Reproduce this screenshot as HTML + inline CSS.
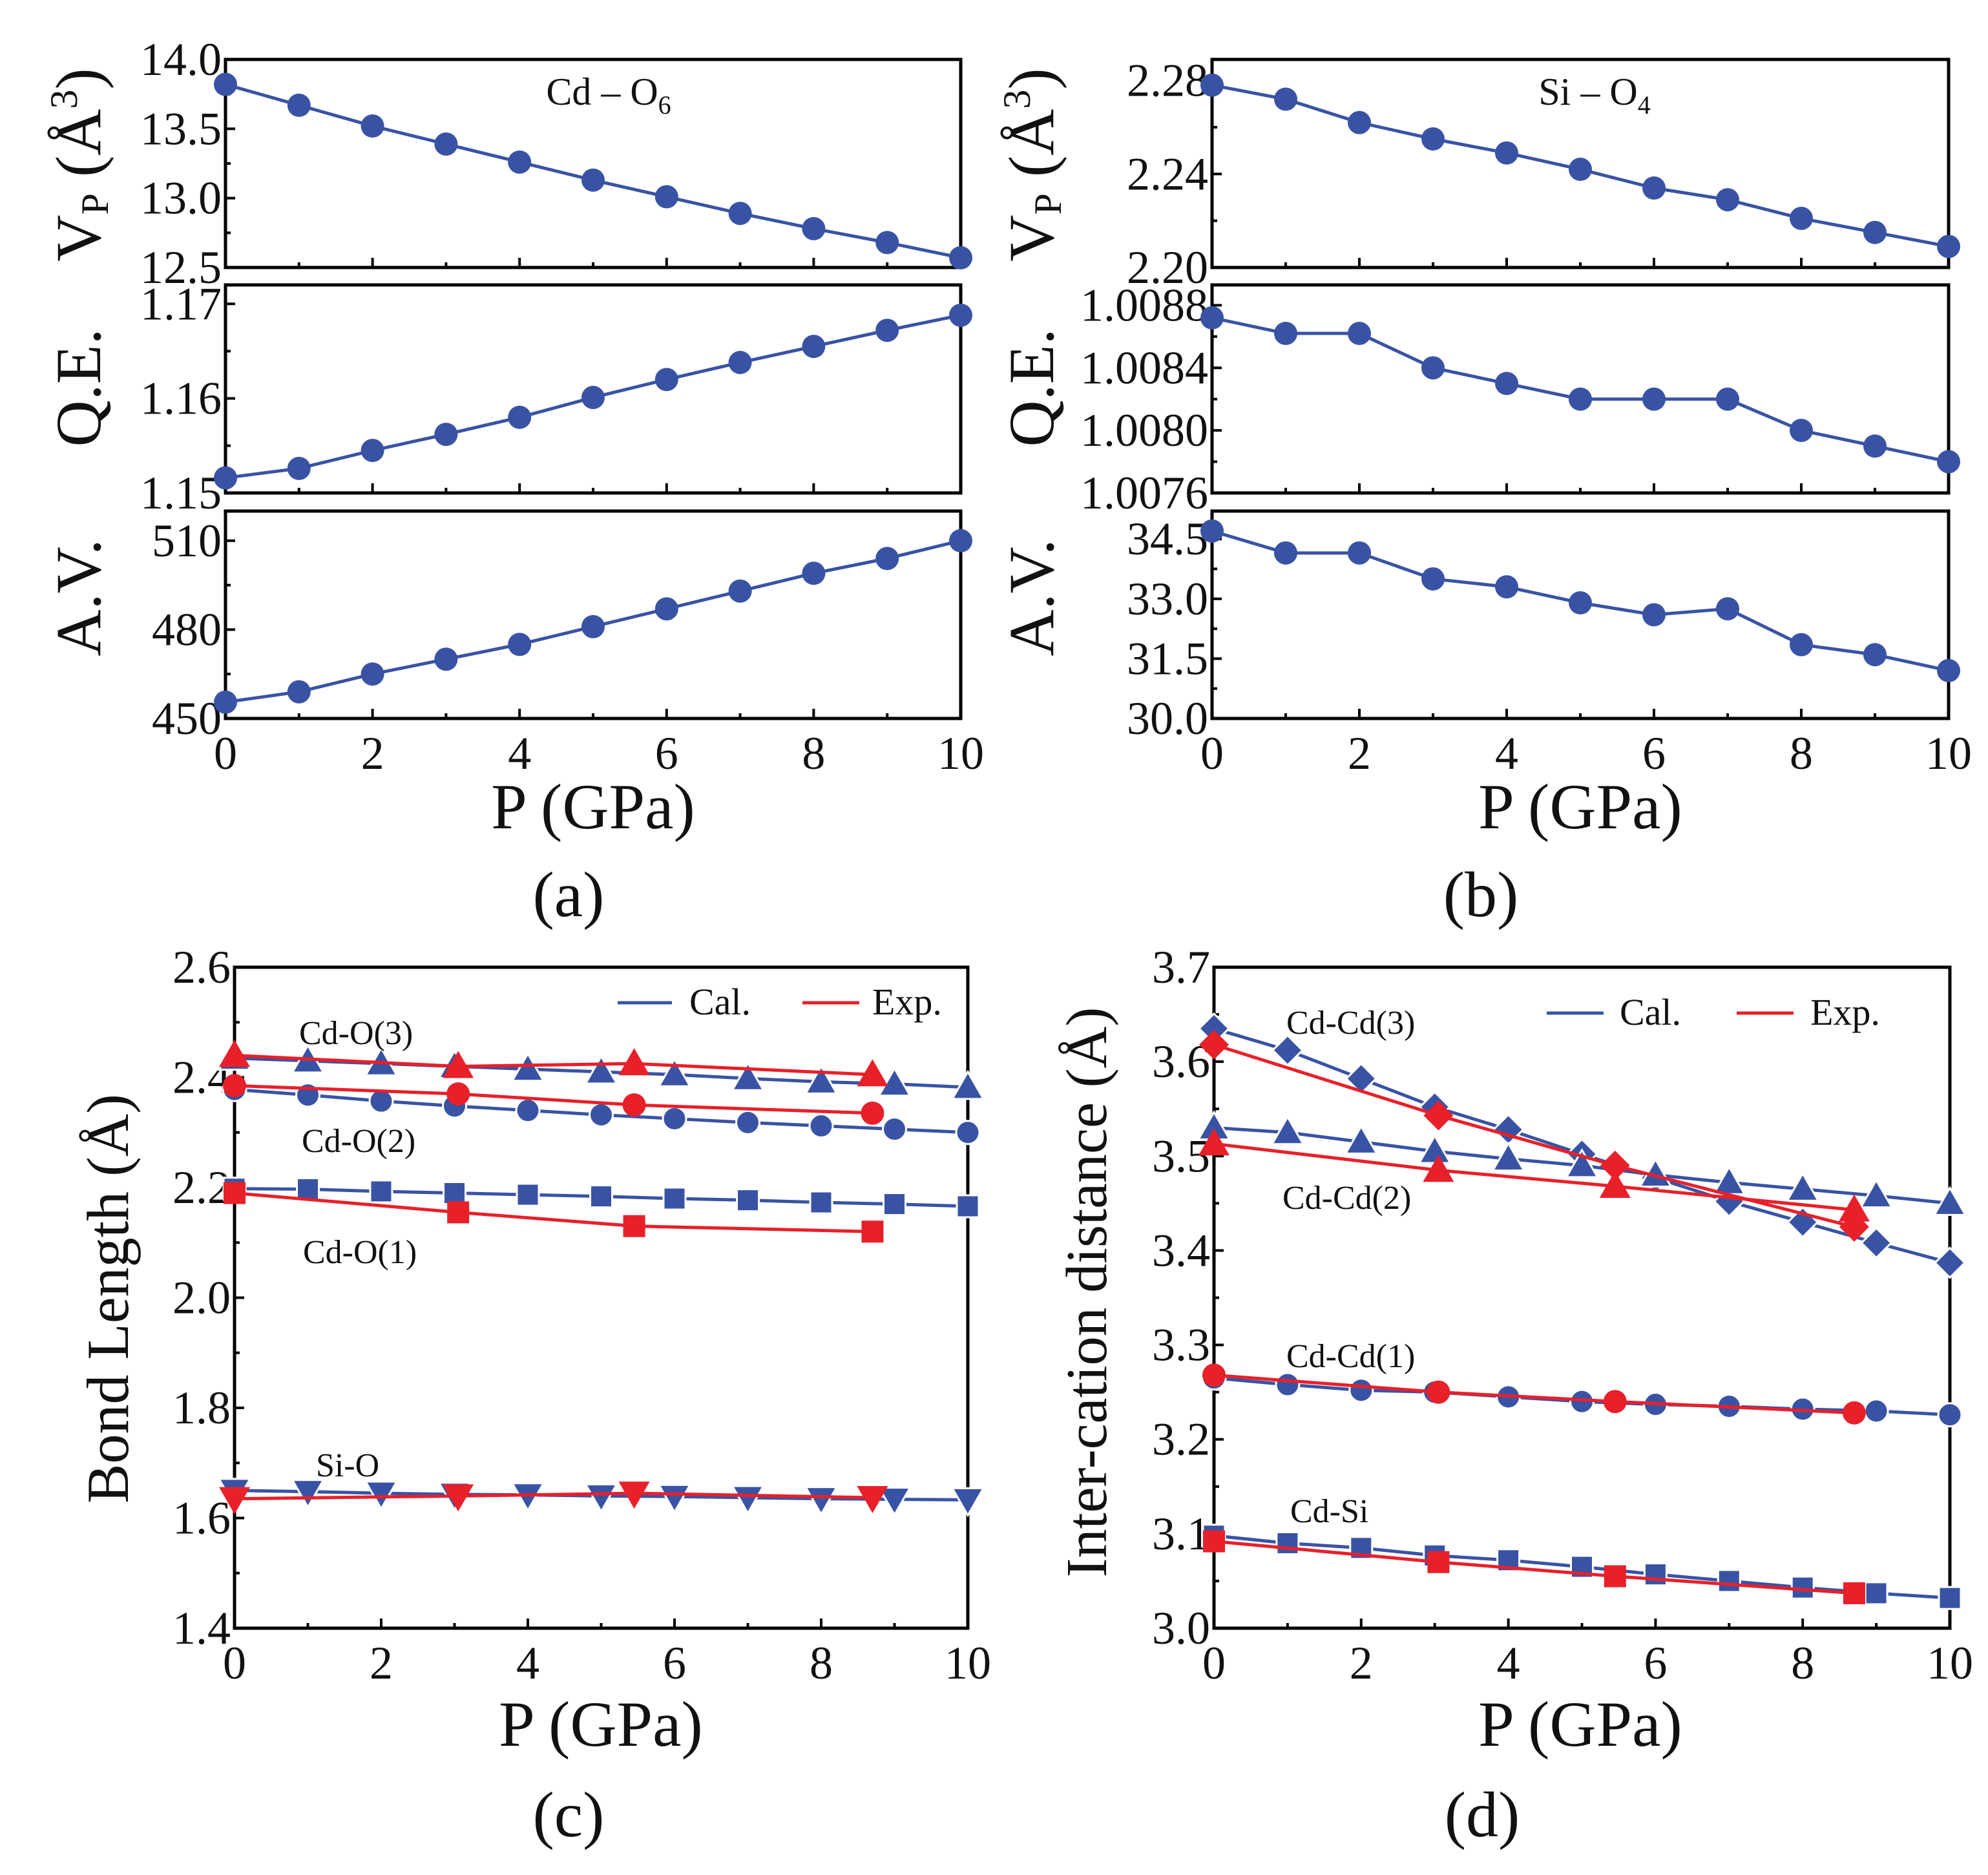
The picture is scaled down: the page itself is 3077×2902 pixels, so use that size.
<!DOCTYPE html>
<html><head><meta charset="utf-8"><style>
html,body{margin:0;padding:0;background:#fff}
svg{display:block}
text{font-family:"Liberation Serif","DejaVu Serif",serif;fill:#111}
</style></head><body>
<svg id="fig" width="3077" height="2902" viewBox="0 0 3077 2902" xmlns="http://www.w3.org/2000/svg" font-family="Liberation Serif, DejaVu Serif, serif"></svg>
<script>
// ---- data ----
const pCal = [0,1,2,3,4,5,6,7,8,9,10];
const pExp = [0,3.05,5.45,8.7];
const xTicks = [0,2,4,6,8,10];
// panel a
const aVp = [13.82,13.67,13.52,13.39,13.26,13.13,13.01,12.89,12.78,12.68,12.57];
const aQE = [1.1516,1.1526,1.1545,1.1562,1.1580,1.1601,1.1620,1.1638,1.1655,1.1672,1.1688];
const aAV = [455.5,459,465,470,475,481,487,493,499,504,510];
const aVpTicks = [12.5,13.0,13.5,14.0];
const aQETicks = [1.15,1.16,1.17];
const aAVTicks = [450,480,510];
// panel b
const bVp = [2.278,2.272,2.262,2.255,2.249,2.242,2.234,2.229,2.221,2.215,2.209];
const bQE = [1.00872,1.00862,1.00862,1.00840,1.00830,1.00820,1.00820,1.00820,1.00800,1.00790,1.00780];
const bAV = [34.7,34.15,34.15,33.5,33.3,32.9,32.6,32.75,31.85,31.6,31.2];
const bVpTicks = [2.20,2.24,2.28];
const bQETicks = [1.0076,1.0080,1.0084,1.0088];
const bAVTicks = [30.0,31.5,33.0,34.5];
// panel c
const cO3Cal = [2.435,2.43,2.425,2.42,2.415,2.41,2.405,2.398,2.392,2.388,2.382];
const cO2Cal = [2.378,2.368,2.357,2.348,2.34,2.332,2.325,2.318,2.312,2.306,2.30];
const cO1Cal = [2.198,2.197,2.193,2.19,2.187,2.184,2.18,2.177,2.173,2.17,2.166];
const cSiCal = [1.65,1.648,1.645,1.643,1.642,1.64,1.639,1.637,1.635,1.634,1.633];
const cO3Exp = [2.44,2.42,2.425,2.405];
const cO2Exp = [2.385,2.37,2.35,2.335];
const cO1Exp = [2.19,2.155,2.13,2.12];
const cSiExp = [1.635,1.64,1.645,1.637];
const cTicks = [1.4,1.6,1.8,2.0,2.2,2.4,2.6];
// panel d
const dCd3Cal = [3.635,3.612,3.582,3.552,3.528,3.502,3.477,3.452,3.43,3.408,3.387];
const dCd2Cal = [3.53,3.525,3.515,3.505,3.497,3.49,3.48,3.472,3.465,3.458,3.45];
const dCd1Cal = [3.265,3.258,3.252,3.25,3.245,3.24,3.237,3.235,3.232,3.23,3.226];
const dSiCal = [3.098,3.09,3.085,3.077,3.072,3.065,3.057,3.05,3.043,3.037,3.032];
const dCd3Exp = [3.618,3.543,3.49,3.425];
const dCd2Exp = [3.513,3.485,3.468,3.443];
const dCd1Exp = [3.268,3.25,3.24,3.228];
const dSiExp = [3.092,3.07,3.055,3.037];
const dTicks = [3.0,3.1,3.2,3.3,3.4,3.5,3.6,3.7];

const BLUE = "#3953a4", RED = "#e8202a";
const FONT = '"Liberation Serif","DejaVu Serif",serif';
const svg = document.getElementById('fig');
const NS = "http://www.w3.org/2000/svg";
function mk(tag, attrs, parent){
  const e = document.createElementNS(NS, tag);
  for (const k in attrs) e.setAttribute(k, attrs[k]);
  (parent||svg).appendChild(e);
  return e;
}
function txt(s, x, y, size, anchor, parent, name){
  const t = mk('text', {x:x, y:y, 'font-size':size, 'text-anchor':anchor||'middle', 'font-family':FONT}, parent);
  t.textContent = s;
  
  
  return t;
}
function axes(x0,x1,y0,y1,ymin,ymax){
  return {
    sx: p => x0 + (p-0)/(10-0)*(x1-x0),
    sy: v => y1 - (v-ymin)/(ymax-ymin)*(y1-y0),
    x0, x1, y0, y1
  };
}
function frame(ax, name, yTicks, yMinorStep, yFmt, showX){
  const g = mk('g', {});
  
  
  mk('rect', {x:ax.x0, y:ax.y0, width:ax.x1-ax.x0, height:ax.y1-ax.y0, fill:'none', stroke:'#000', 'stroke-width':5}, g);
  for (let p=0;p<=10;p++){
    const x = ax.sx(p), L = p%2===0 ? 15 : 8;
    mk('line', {x1:x, x2:x, y1:ax.y1, y2:ax.y1-L, stroke:'#000','stroke-width':4}, g);
  }
  if (showX){
    xTicks.forEach(p => txt(String(p), ax.sx(p), ax.y1+78, 72, 'middle', g, 'x-tick-label'));
  }
  yTicks.forEach(v => {
    const y = ax.sy(v);
    mk('line', {x1:ax.x0, x2:ax.x0+15, y1:y, y2:y, stroke:'#000','stroke-width':4}, g);
    txt(yFmt(v), ax.x0-6, y+24, 72, 'end', g, 'y-tick-label');
  });
  if (yMinorStep){
    for (let i=0;i<yTicks.length-1;i++){
      const y = ax.sy((yTicks[i]+yTicks[i+1])/2);
      mk('line', {x1:ax.x0, x2:ax.x0+8, y1:y, y2:y, stroke:'#000','stroke-width':4}, g);
    }
  }
  return g;
}
function marker(shape, x, y, color, parent, halo){
  const r = 24;
  const sw = halo ? {stroke:'#fff','stroke-width':3} : {};
  let e;
  if (shape==='circle') e = mk('circle', Object.assign({cx:x, cy:y, r:18, fill:color}, sw), parent);
  else if (shape==='square') e = mk('rect', Object.assign({x:x-17, y:y-17, width:34, height:34, fill:color}, sw), parent);
  else if (shape==='up') e = mk('polygon', Object.assign({points:`${x},${y-r} ${x+r},${y+r*0.75} ${x-r},${y+r*0.75}`, fill:color}, sw), parent);
  else if (shape==='down') e = mk('polygon', Object.assign({points:`${x},${y+r} ${x+r},${y-r*0.75} ${x-r},${y-r*0.75}`, fill:color}, sw), parent);
  else if (shape==='diamond') e = mk('polygon', Object.assign({points:`${x},${y-23} ${x+23},${y} ${x},${y+23} ${x-23},${y}`, fill:color}, sw), parent);
  
  
}
function series(ax, xs, ys, color, shape, name, halo){
  const g = mk('g', {});
  
  
  const pts = xs.map((p,i)=> ax.sx(p)+','+ax.sy(ys[i])).join(' ');
  mk('polyline', {points:pts, fill:'none', stroke:color, 'stroke-width':5}, g);
  xs.forEach((p,i)=> marker(shape, ax.sx(p), ax.sy(ys[i]), color, g, halo));
}
function ytitle(parts, x, y, size, name){
  const t = mk('text', {x:0, y:0, 'font-size':size, 'text-anchor':'middle', 'font-family':FONT, transform:`translate(${x},${y}) rotate(-90)`});
  t.innerHTML = parts;
  
  
}
const f1 = v=>v.toFixed(1), f2 = v=>v.toFixed(2), f4 = v=>v.toFixed(4), f0 = v=>v.toFixed(0);
const VP = 'V<tspan font-size="60" dy="12">P</tspan><tspan dy="-12"> (Å</tspan><tspan font-size="60" dy="-36">3</tspan><tspan dy="36">)</tspan>';

// ---- panel a ----
const A1 = axes(349,1487,92,414,12.5,14.0);
const A2 = axes(349,1487,441,763,1.15,1.172);
const A3 = axes(349,1487,791,1112,450,520);
frame(A1,'panel-a-vp-axes',aVpTicks,true,f1,false);
frame(A2,'panel-a-qe-axes',aQETicks,true,f2,false);
frame(A3,'panel-a-av-axes',aAVTicks,true,f0,true);
series(A1,pCal,aVp,BLUE,'circle','cd-o6-vp-series');
series(A2,pCal,aQE,BLUE,'circle','cd-o6-qe-series');
series(A3,pCal,aAV,BLUE,'circle','cd-o6-av-series');
(function(){const t=mk('text',{x:942,y:162,'font-size':60,'text-anchor':'middle','font-family':FONT});t.innerHTML='Cd – O<tspan font-size="40" dy="14">6</tspan>';})();
ytitle(VP,155,255,100,'vp-y-title-a');
ytitle('Q.E.',155,600,100,'qe-y-title-a');
ytitle('A.V.',155,925,100,'av-y-title-a');
txt('P (GPa)',918,1282,100,'middle',null,'x-axis-title-a');
txt('(a)',880,1418,100,'middle',null,'panel-label-a');

// ---- panel b ----
const B1 = axes(1876,3016,92,414,2.20,2.289);
const B2 = axes(1876,3016,441,763,1.0076,1.00893);
const B3 = axes(1876,3016,791,1112,30.0,35.2);
frame(B1,'panel-b-vp-axes',bVpTicks,true,f2,false);
frame(B2,'panel-b-qe-axes',bQETicks,true,f4,false);
frame(B3,'panel-b-av-axes',bAVTicks,true,f1,true);
series(B1,pCal,bVp,BLUE,'circle','si-o4-vp-series');
series(B2,pCal,bQE,BLUE,'circle','si-o4-qe-series');
series(B3,pCal,bAV,BLUE,'circle','si-o4-av-series');
(function(){const t=mk('text',{x:2468,y:162,'font-size':60,'text-anchor':'middle','font-family':FONT});t.innerHTML='Si – O<tspan font-size="40" dy="14">4</tspan>';})();
ytitle(VP,1630,255,100,'vp-y-title-b');
ytitle('Q.E.',1630,600,100,'qe-y-title-b');
ytitle('A.V.',1630,925,100,'av-y-title-b');
txt('P (GPa)',2446,1282,100,'middle',null,'x-axis-title-b');
txt('(b)',2292,1418,100,'middle',null,'panel-label-b');

// ---- panel c ----
const C = axes(363,1498,1497,2520,1.4,2.6);
frame(C,'panel-c-axes',cTicks,true,f1,true);
series(C,pCal,cO3Cal,BLUE,'up','cd-o3-cal',true);
series(C,pCal,cO2Cal,BLUE,'circle','cd-o2-cal',true);
series(C,pCal,cO1Cal,BLUE,'square','cd-o1-cal',true);
series(C,pCal,cSiCal,BLUE,'down','si-o-cal',true);
series(C,pExp,cO3Exp,RED,'up','cd-o3-exp');
series(C,pExp,cO2Exp,RED,'circle','cd-o2-exp');
series(C,pExp,cO1Exp,RED,'square','cd-o1-exp');
series(C,pExp,cSiExp,RED,'down','si-o-exp');
txt('Cd-O(3)',463,1616,52,'start',null,'cd-o3-label');
txt('Cd-O(2)',467,1783,52,'start',null,'cd-o2-label');
txt('Cd-O(1)',469,1955,52,'start',null,'cd-o1-label');
txt('Si-O',489,2285,52,'start',null,'si-o-label');
mk('line',{x1:956,x2:1040,y1:1552,y2:1552,stroke:BLUE,'stroke-width':5,});
txt('Cal.',1067,1570,58,'start',null,'legend-cal-c');
mk('line',{x1:1242,x2:1330,y1:1552,y2:1552,stroke:RED,'stroke-width':5,});
txt('Exp.',1350,1570,58,'start',null,'legend-exp-c');
ytitle('Bond Length (Å)',198,2010,92,'y-axis-title-c');
txt('P (GPa)',930,2702,100,'middle',null,'x-axis-title-c');
txt('(c)',880,2842,100,'middle',null,'panel-label-c');

// ---- panel d ----
const D = axes(1879,3018,1497,2520,3.0,3.7);
frame(D,'panel-d-axes',dTicks,true,f1,true);
series(D,pCal,dCd3Cal,BLUE,'diamond','cd-cd3-cal',true);
series(D,pCal,dCd2Cal,BLUE,'up','cd-cd2-cal',true);
series(D,pCal,dCd1Cal,BLUE,'circle','cd-cd1-cal',true);
series(D,pCal,dSiCal,BLUE,'square','cd-si-cal',true);
series(D,pExp,dCd3Exp,RED,'diamond','cd-cd3-exp');
series(D,pExp,dCd2Exp,RED,'up','cd-cd2-exp');
series(D,pExp,dCd1Exp,RED,'circle','cd-cd1-exp');
series(D,pExp,dSiExp,RED,'square','cd-si-exp');
txt('Cd-Cd(3)',1991,1600,52,'start',null,'cd-cd3-label');
txt('Cd-Cd(2)',1985,1871,52,'start',null,'cd-cd2-label');
txt('Cd-Cd(1)',1991,2116,52,'start',null,'cd-cd1-label');
txt('Cd-Si',1997,2356,52,'start',null,'cd-si-label');
mk('line',{x1:2394,x2:2482,y1:1568,y2:1568,stroke:BLUE,'stroke-width':5,});
txt('Cal.',2507,1586,58,'start',null,'legend-cal-d');
mk('line',{x1:2688,x2:2776,y1:1568,y2:1568,stroke:RED,'stroke-width':5,});
txt('Exp.',2802,1586,58,'start',null,'legend-exp-d');
ytitle('Inter-cation distance (Å)',1712,2000,90,'y-axis-title-d');
txt('P (GPa)',2446,2702,100,'middle',null,'x-axis-title-d');
txt('(d)',2294,2842,100,'middle',null,'panel-label-d');
</script>
</body></html>
